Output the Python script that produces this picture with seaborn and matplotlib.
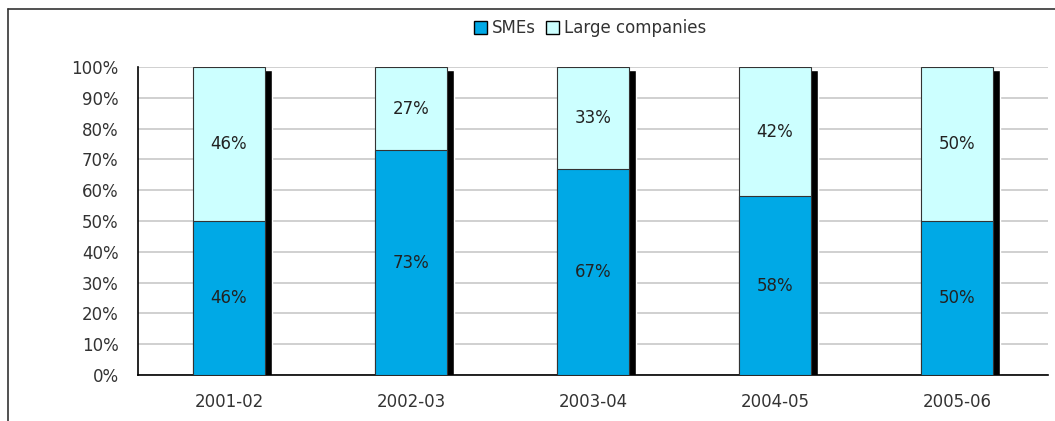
import numpy as np
import pandas as pd
import matplotlib
matplotlib.use("Agg")
import matplotlib.pyplot as plt
import matplotlib.transforms as mtransforms
from matplotlib.patches import Patch
from matplotlib.lines import Line2D
import seaborn as sns

# Datos
years = ['2001-02', '2002-03', '2003-04', '2004-05', '2005-06']
sme_share = [50, 73, 67, 58, 50]
large_share = [50, 27, 33, 42, 50]
sme_labels = ['46%', '73%', '67%', '58%', '50%']
large_labels = ['46%', '27%', '33%', '42%', '50%']

sme_color = '#00A9E6'
large_color = '#CCFFFF'

df = pd.DataFrame({'year': years, 'SMEs': sme_share, 'Large': large_share})
df['total'] = df['SMEs'] + df['Large']

sns.set_style('white')
plt.rcParams['font.family'] = ['DejaVu Sans']
fs = 12

fig = plt.figure(figsize=(10.55, 4.21), dpi=100)
ax = fig.add_axes([138 / 1055, 46 / 421, 910 / 1055, 308 / 421])

# sombra negra detras de las barras
sns.barplot(data=df, x='year', y='total', color='black', width=0.4,
            saturation=1, ax=ax, zorder=1)
offset = mtransforms.ScaledTranslation(6.5 / 100, -3 / 100, fig.dpi_scale_trans)
for p in ax.patches:
    p.set_transform(ax.transData + offset)

# barra apilada: total (grandes empresas) y pymes encima
sns.barplot(data=df, x='year', y='total', color=large_color, width=0.4,
            saturation=1, edgecolor='#333333', linewidth=0.8, ax=ax, zorder=2)
sns.barplot(data=df, x='year', y='SMEs', color=sme_color, width=0.4,
            saturation=1, edgecolor='#333333', linewidth=0.8, ax=ax, zorder=3)

# etiquetas
for i in range(len(years)):
    ax.text(i, sme_share[i] / 2, sme_labels[i], ha='center', va='center',
            fontsize=fs, color='#222222', zorder=5)
    ax.text(i, sme_share[i] + large_share[i] / 2, large_labels[i], ha='center', va='center',
            fontsize=fs, color='#222222', zorder=5)

ax.set_ylim(0, 100)
ax.set_xlim(-0.5, len(years) - 0.5)
ax.set_yticks(np.arange(0, 101, 10))
ax.set_yticklabels([f'{v}%' for v in range(0, 101, 10)], fontsize=fs, color='#333333')
ax.set_xticks(range(len(years)))
ax.set_xticklabels(years, fontsize=fs, color='#333333')
ax.set_xticks(np.arange(-0.5, len(years), 1), minor=True)
ax.tick_params(axis='x', which='major', length=0, pad=13)
ax.tick_params(axis='x', which='minor', length=4, width=1.2, color='black', direction='out')
ax.tick_params(axis='y', length=7, width=1.2, color='black', direction='out', pad=7)
ax.set_xlabel('')
ax.set_ylabel('')
ax.yaxis.grid(True, color='#C8C8C8', linewidth=1.2)
ax.set_axisbelow(True)
for s in ['top', 'right']:
    ax.spines[s].set_visible(False)
for s in ['left', 'bottom']:
    ax.spines[s].set_color('black')
    ax.spines[s].set_linewidth(1.2)

# leyenda
handles = [Patch(facecolor=sme_color, edgecolor='black', label='SMEs'),
           Patch(facecolor=large_color, edgecolor='black', label='Large companies')]
fig.legend(handles=handles, loc='center', bbox_to_anchor=(590 / 1055, 1 - 28 / 421),
           ncol=2, frameon=False, fontsize=fs, handlelength=0.8, handleheight=0.8,
           handletextpad=0.3, columnspacing=0.6, labelcolor='#333333')

# marco exterior
fig.add_artist(Line2D([8 / 1055, 8 / 1055], [0, 1 - 9 / 421], color='#333333', linewidth=1.2))
fig.add_artist(Line2D([8 / 1055, 1], [1 - 9 / 421, 1 - 9 / 421], color='#333333', linewidth=1.2))

fig.savefig('out.png', dpi=100)
